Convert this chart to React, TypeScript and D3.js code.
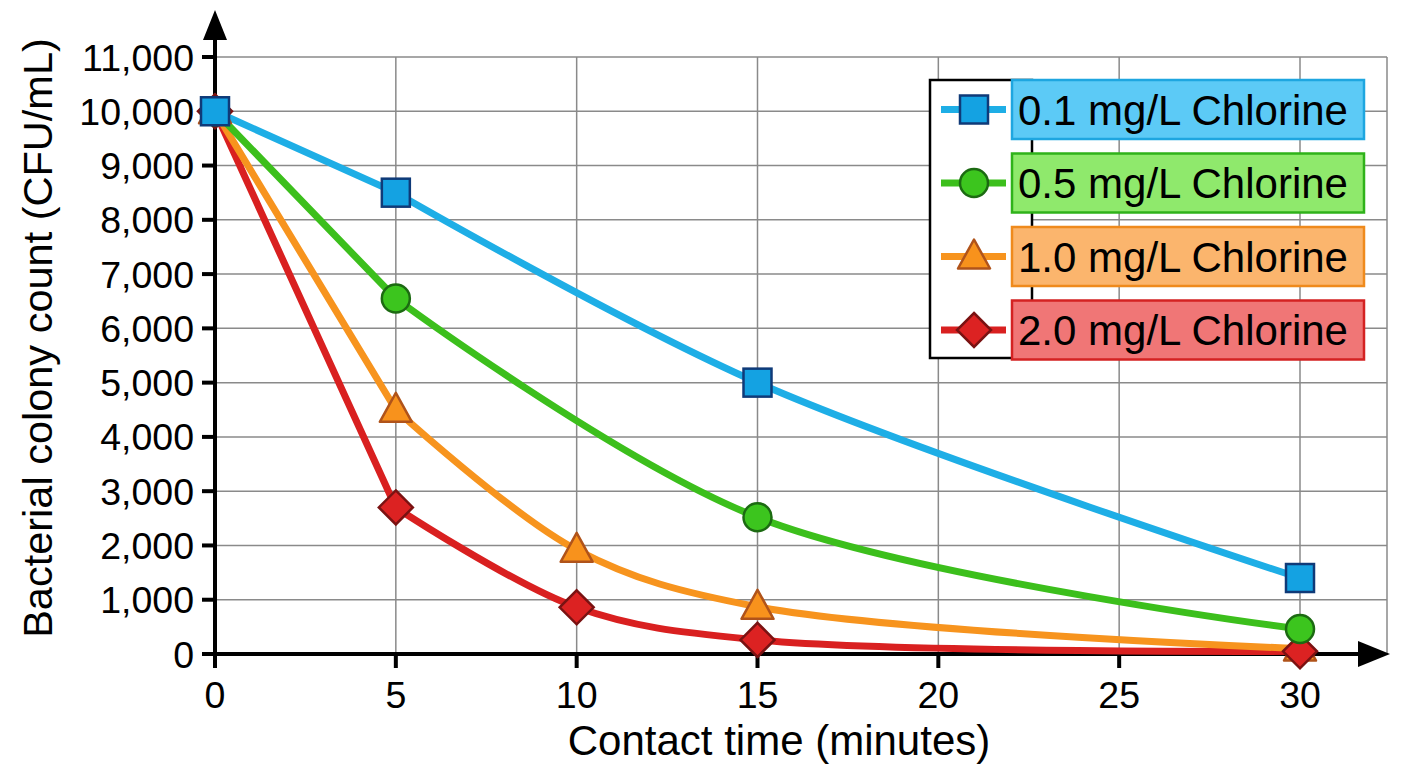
import React from 'react'
import * as d3 from 'd3'

// data
const xTicks = [0, 5, 10, 15, 20, 25, 30]
const yTicks = [0, 1000, 2000, 3000, 4000, 5000, 6000, 7000, 8000, 9000, 10000, 11000]

const s01 = [
  { t: 0, v: 10000 },
  { t: 5, v: 8500 },
  { t: 15, v: 5000 },
  { t: 30, v: 1400 },
]
const s05 = [
  { t: 0, v: 10000 },
  { t: 5, v: 6550 },
  { t: 15, v: 2520 },
  { t: 30, v: 460 },
]
const s10 = [
  { t: 0, v: 10000 },
  { t: 5, v: 4500 },
  { t: 10, v: 1920 },
  { t: 15, v: 870 },
  { t: 30, v: 100 },
]
const s20 = [
  { t: 0, v: 10000 },
  { t: 5, v: 2700 },
  { t: 10, v: 860 },
  { t: 15, v: 260 },
  { t: 30, v: 50 },
]

const seriesNames = ['0.1 mg/L Chlorine', '0.5 mg/L Chlorine', '1.0 mg/L Chlorine', '2.0 mg/L Chlorine']

const styles = [
  { data: s01, line: '#1eaee6', fill: '#14a2e2', stroke: '#0f3a78', box: '#5ccaf6', boxStroke: '#1ea6e0', shape: 'square' },
  { data: s05, line: '#3cbf1c', fill: '#3cc51e', stroke: '#1c6a12', box: '#8fe96c', boxStroke: '#2fb21a', shape: 'circle' },
  { data: s10, line: '#f7941e', fill: '#f8921c', stroke: '#b0531a', box: '#fbb56d', boxStroke: '#ef8a1c', shape: 'triangle' },
  { data: s20, line: '#d92020', fill: '#dc2222', stroke: '#7a1212', box: '#f07676', boxStroke: '#d42222', shape: 'diamond' },
]
// marker stacking: orange under red, blue on top
const markerOrder = [2, 3, 1, 0]

const W = 1408
const H = 768
const FONT = '"Liberation Sans", Arial, sans-serif'

function Marker({ shape, x, y, fill, stroke }: any) {
  if (shape === 'square') {
    return <rect x={x - 14} y={y - 14} width={28} height={28} fill={fill} stroke={stroke} strokeWidth={2.5} />
  }
  if (shape === 'circle') {
    return <circle cx={x} cy={y} r={14} fill={fill} stroke={stroke} strokeWidth={2.5} />
  }
  if (shape === 'triangle') {
    return (
      <path
        d={`M${x},${y - 17} L${x + 16},${y + 12} L${x - 16},${y + 12} Z`}
        fill={fill}
        stroke={stroke}
        strokeWidth={2.5}
        strokeLinejoin="round"
      />
    )
  }
  return (
    <path
      d={`M${x},${y - 17} L${x + 17},${y} L${x},${y + 17} L${x - 17},${y} Z`}
      fill={fill}
      stroke={stroke}
      strokeWidth={2.5}
    />
  )
}

export default function App() {
  const left = 215
  const bottom = 654
  const x = d3.scaleLinear().domain([0, 30]).range([left, 1300])
  const y = d3.scaleLinear().domain([0, 11000]).range([bottom, 57])
  const gridRight = 1387

  // straight first drop, smooth afterwards
  const straight = d3
    .line<{ t: number; v: number }>()
    .x((d) => x(d.t))
    .y((d) => y(d.v))
  const smooth = d3
    .line<{ t: number; v: number }>()
    .x((d) => x(d.t))
    .y((d) => y(d.v))
    .curve(d3.curveCatmullRom.alpha(0.5))
  const seriesPath = (data: { t: number; v: number }[]) =>
    (straight(data.slice(0, 2)) || '') + ' ' + (smooth(data.slice(1)) || '')

  const fmt = d3.format(',')

  // legend geometry
  const lgX = 930
  const lgY = 80
  const lgH = 278
  const boxX = 1012
  const boxW = 352
  const boxH = 59
  const rowGap = 73.5

  return (
    <svg
      width={W}
      height={H}
      style={{ position: 'absolute', left: 0, top: 0, background: '#fff' }}
      fontFamily={FONT}
    >
      <rect width={W} height={H} fill="#fff" />

      {/* grid */}
      <g stroke="#8a8a8a" strokeWidth={1.5}>
        {yTicks.map((t) => (
          <line key={'h' + t} x1={left} x2={gridRight} y1={y(t)} y2={y(t)} />
        ))}
        {xTicks.map((t) => (
          <line key={'v' + t} x1={x(t)} x2={x(t)} y1={y(11000)} y2={bottom} />
        ))}
        <line x1={gridRight} x2={gridRight} y1={y(11000)} y2={bottom} />
      </g>

      {/* axes */}
      <g stroke="#000" strokeWidth={4}>
        <line x1={left} x2={left} y1={bottom + 2} y2={30} />
        <line x1={left - 2} x2={1370} y1={bottom} y2={bottom} />
        {yTicks.map((t) => (
          <line key={'yt' + t} x1={left - 13} x2={left} y1={y(t)} y2={y(t)} />
        ))}
        {xTicks.map((t) => (
          <line key={'xt' + t} x1={x(t)} x2={x(t)} y1={bottom} y2={bottom + 14} />
        ))}
      </g>
      <path d={`M${left},10 L${left + 12},40 L${left - 12},40 Z`} fill="#000" />
      <path d={`M1390,${bottom} L1358,${bottom - 13} L1358,${bottom + 13} Z`} fill="#000" />

      {/* tick labels */}
      <g fontSize={37.5} fill="#000">
        {yTicks.map((t) => (
          <text key={'yl' + t} x={left - 21} y={y(t)} dy="0.36em" textAnchor="end">
            {fmt(t)}
          </text>
        ))}
        {xTicks.map((t) => (
          <text key={'xl' + t} x={x(t)} y={bottom + 54} textAnchor="middle">
            {t}
          </text>
        ))}
      </g>

      {/* axis titles */}
      <text x={779} y={755} fontSize={42} textAnchor="middle" fill="#000">
        Contact time (minutes)
      </text>
      <text
        transform={`translate(52,338) rotate(-90)`}
        fontSize={41.5}
        textAnchor="middle"
        fill="#000"
      >
        Bacterial colony count (CFU/mL)
      </text>

      {/* series lines */}
      {[...styles].reverse().map((s, i) => (
        <path
          key={'l' + i}
          d={seriesPath(s.data)}
          fill="none"
          stroke={s.line}
          strokeWidth={7}
          strokeLinejoin="round"
          strokeLinecap="round"
        />
      ))}

      {/* markers */}
      {markerOrder.map((k) => {
        const s = styles[k]
        return (
          <g key={'m' + k}>
            {s.data.map((d) => (
              <Marker key={d.t} shape={s.shape} x={x(d.t)} y={y(d.v)} fill={s.fill} stroke={s.stroke} />
            ))}
          </g>
        )
      })}

      {/* legend */}
      <rect x={lgX} y={lgY} width={boxX - lgX + 20} height={lgH} fill="#fff" stroke="#000" strokeWidth={2.5} />
      {styles.map((s, i) => {
        const cy = lgY + boxH / 2 + i * rowGap
        return (
          <g key={'lg' + i}>
            <rect x={boxX} y={cy - boxH / 2} width={boxW} height={boxH} fill={s.box} stroke={s.boxStroke} strokeWidth={2.5} />
            <line x1={941} x2={1006} y1={cy} y2={cy} stroke={s.line} strokeWidth={7} />
            <Marker shape={s.shape} x={974} y={cy} fill={s.fill} stroke={s.stroke} />
            <text x={1018} y={cy} dy="0.36em" fontSize={42} fill="#000">
              {seriesNames[i]}
            </text>
          </g>
        )
      })}
    </svg>
  )
}
